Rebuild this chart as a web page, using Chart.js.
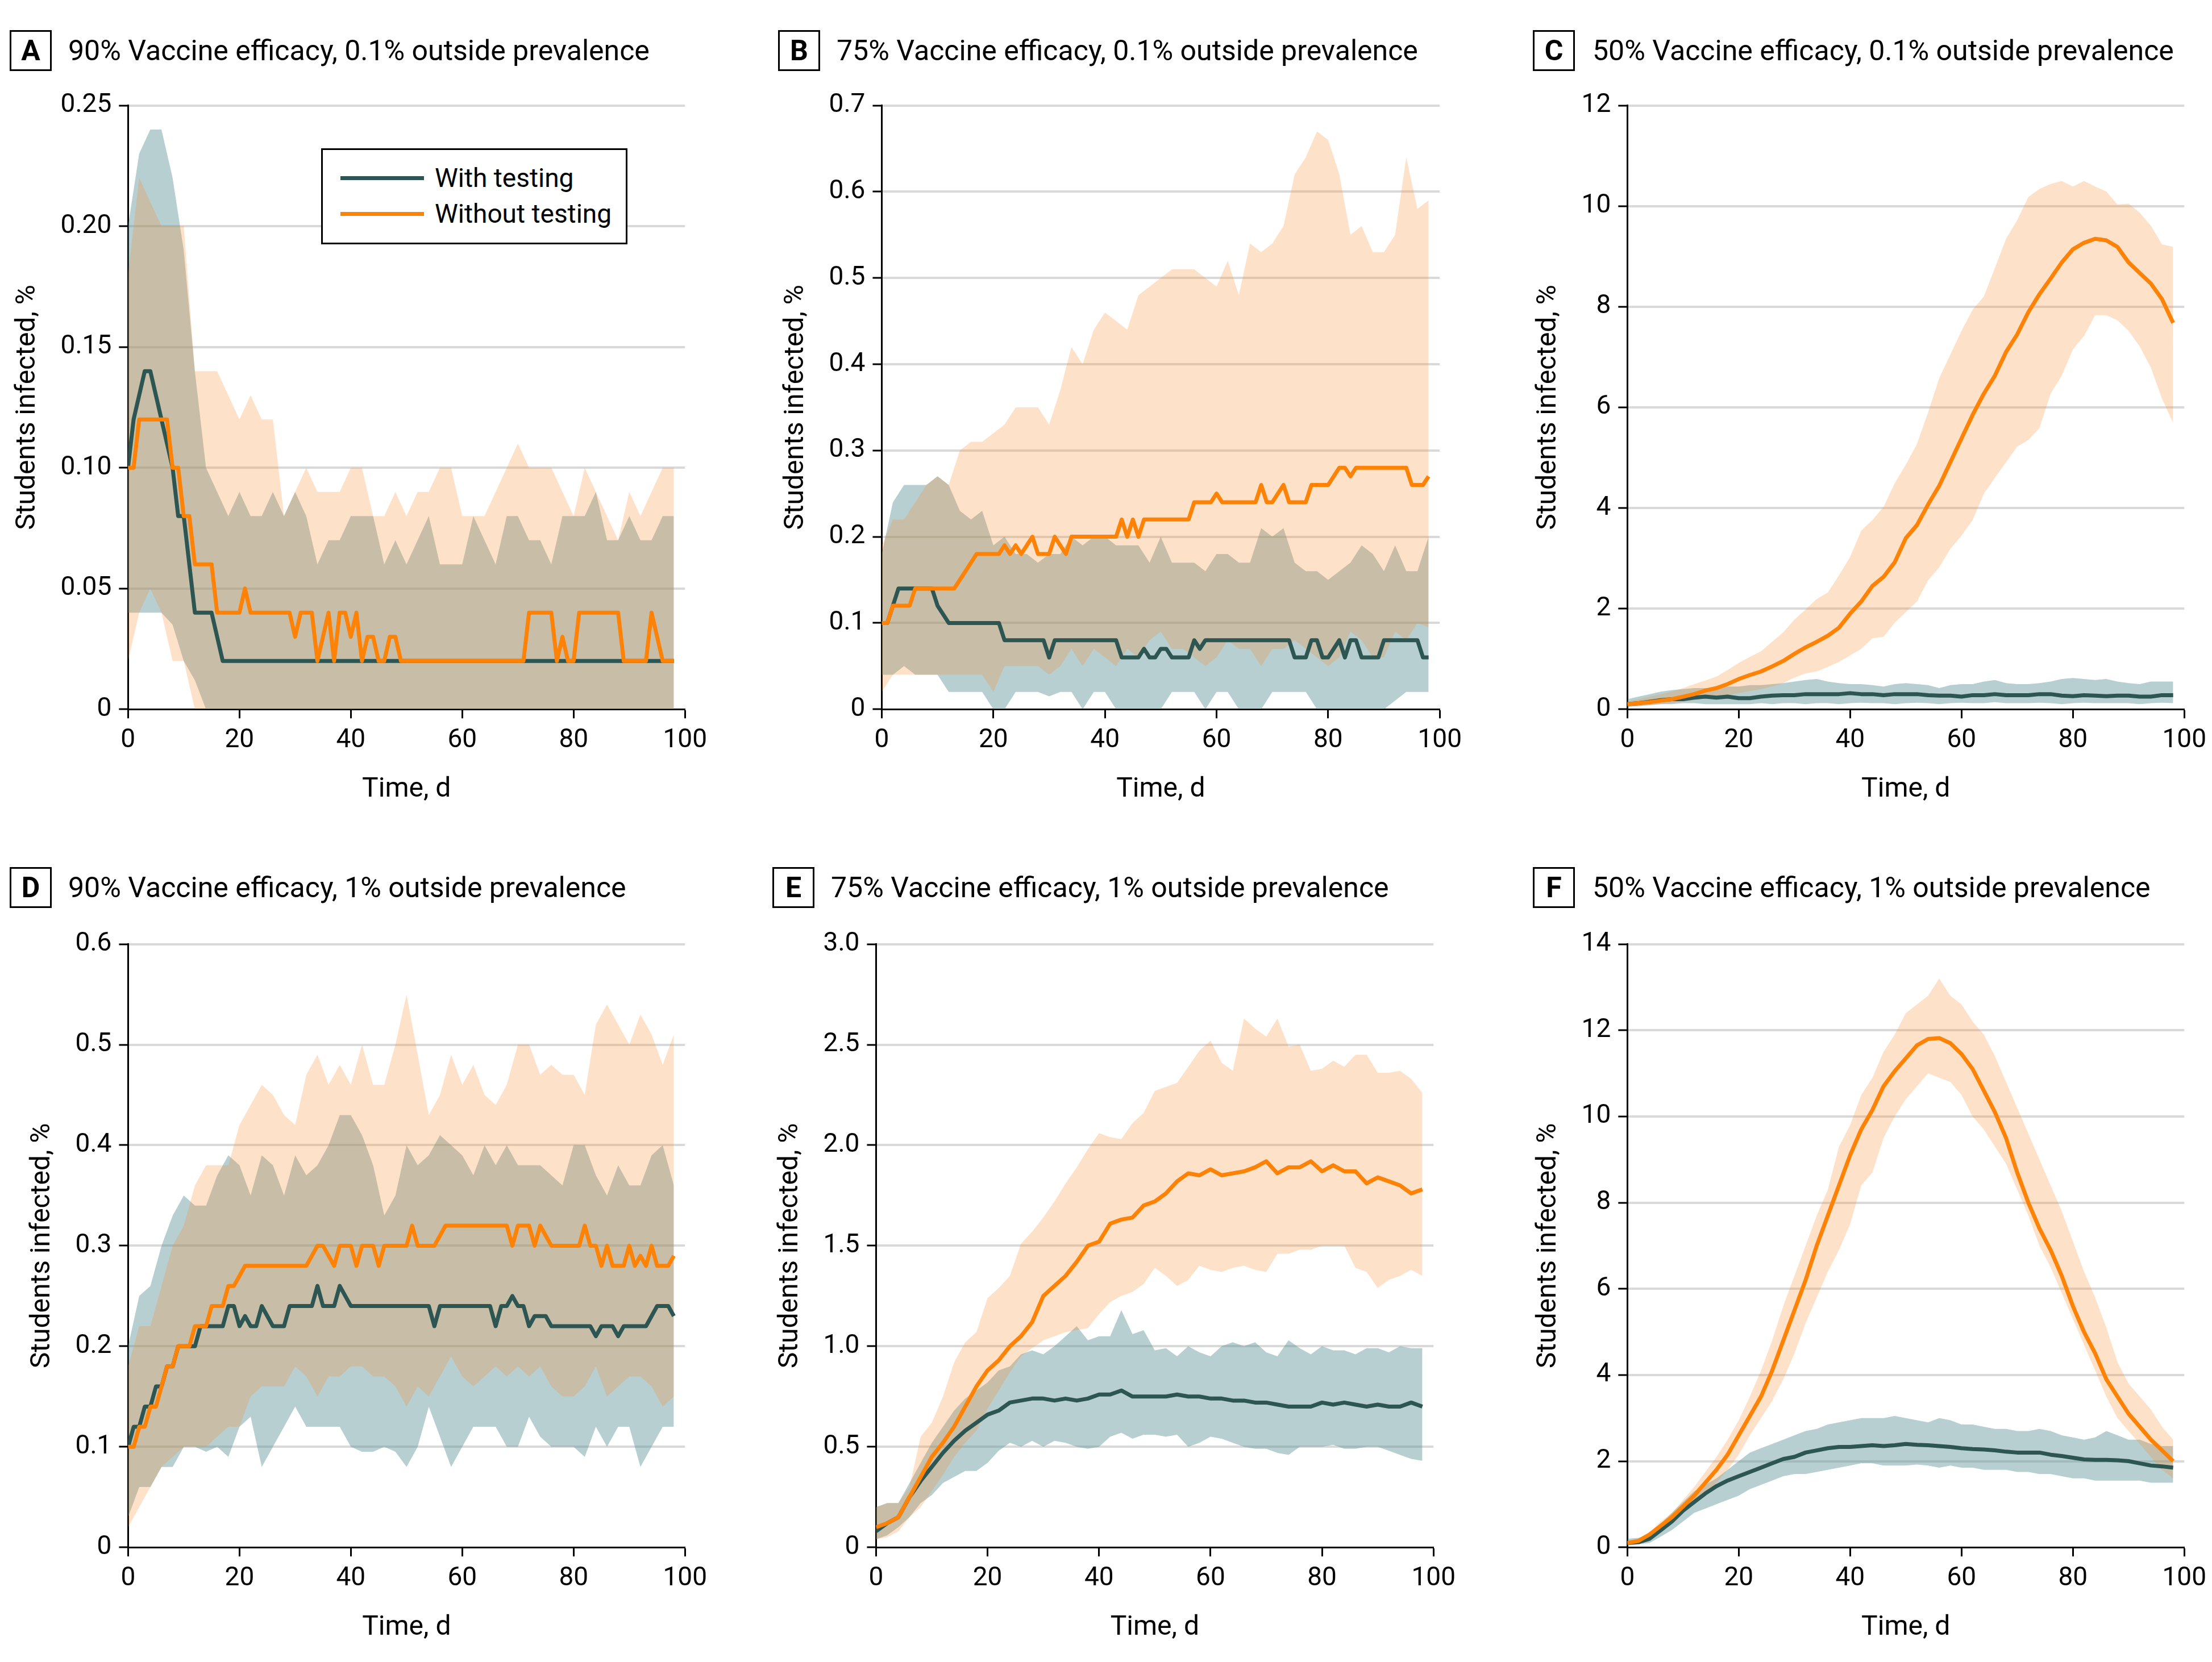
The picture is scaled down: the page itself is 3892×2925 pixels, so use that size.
<!DOCTYPE html>
<html>
<head>
<meta charset="utf-8">
<title>Students infected over time</title>
<script src="https://cdn.jsdelivr.net/npm/chart.js@4.4.1/dist/chart.umd.min.js"></script>
<style>
  html, body { margin: 0; padding: 0; background: #fff; }
  body { position: relative; width: 3892px; height: 2925px; overflow: hidden; font-family: Roboto, "Noto Sans", sans-serif; color: #000; }
  canvas { position: absolute; }
  .box { position: absolute; width: 74px; height: 72px; border: 3px solid #000; box-sizing: border-box;
         font-weight: bold; font-size: 50px; display: flex; align-items: center; justify-content: center; }
  .title { position: absolute; font-size: 50px; line-height: 72px; height: 72px; white-space: nowrap; }
  .legend { position: absolute; left: 565px; top: 261px; width: 539px; height: 169px; border: 3px solid #000;
            box-sizing: border-box; background: #fff; z-index: 2; }
  .legend .swatch { position: absolute; left: 31px; width: 147px; height: 7px; }
  .legend .label { position: absolute; left: 197px; font-size: 46px; line-height: 60px; height: 60px; white-space: nowrap; }
</style>
</head>
<body>
<script>
// Days sampled for the mean lines and for the uncertainty bands
const daysDaily = [0,1,2,3,4,5,6,7,8,9,10,11,12,13,14,15,16,17,18,19,20,21,22,23,24,25,26,27,28,29,30,31,32,33,34,35,36,37,38,39,40,41,42,43,44,45,46,47,48,49,50,51,52,53,54,55,56,57,58,59,60,61,62,63,64,65,66,67,68,69,70,71,72,73,74,75,76,77,78,79,80,81,82,83,84,85,86,87,88,89,90,91,92,93,94,95,96,97,98];
const days2 = [0,2,4,6,8,10,12,14,16,18,20,22,24,26,28,30,32,34,36,38,40,42,44,46,48,50,52,54,56,58,60,62,64,66,68,70,72,74,76,78,80,82,84,86,88,90,92,94,96,98];

const xTicks = [0, 20, 40, 60, 80, 100];

// A: 90% efficacy, 0.1% outside prevalence
const aTicks = [0, 0.05, 0.10, 0.15, 0.20, 0.25];
const aTickLabels = ['0', '0.05', '0.10', '0.15', '0.20', '0.25'];
const aWithMean = [.10,.12,.13,.14,.14,.13,.12,.11,.10,.08, .08,.06,.04,.04,.04,.04,.03,.02,.02,.02,
  .02,.02,.02,.02,.02,.02,.02,.02,.02,.02, .02,.02,.02,.02,.02,.02,.02,.02,.02,.02,
  .02,.02,.02,.02,.02,.02,.02,.02,.02,.02, .02,.02,.02,.02,.02,.02,.02,.02,.02,.02,
  .02,.02,.02,.02,.02,.02,.02,.02,.02,.02, .02,.02,.02,.02,.02,.02,.02,.02,.02,.02,
  .02,.02,.02,.02,.02,.02,.02,.02,.02,.02, .02,.02,.02,.02,.02,.02,.02,.02,.02];
const aWithoutMean = [.10,.10,.12,.12,.12,.12,.12,.12,.10,.10, .08,.08,.06,.06,.06,.06,.04,.04,.04,.04,
  .04,.05,.04,.04,.04,.04,.04,.04,.04,.04, .03,.04,.04,.04,.02,.03,.04,.02,.04,.04,
  .03,.04,.02,.03,.03,.02,.02,.03,.03,.02, .02,.02,.02,.02,.02,.02,.02,.02,.02,.02,
  .02,.02,.02,.02,.02,.02,.02,.02,.02,.02, .02,.02,.04,.04,.04,.04,.04,.02,.03,.02,
  .02,.04,.04,.04,.04,.04,.04,.04,.04,.02, .02,.02,.02,.02,.04,.03,.02,.02,.02];
const aWithLow = [.04,.04,.04,.04,.035,.02,.012,0,0,0, 0,0,0,0,0,0,0,0,0,0, 0,0,0,0,0,0,0,0,0,0, 0,0,0,0,0,0,0,0,0,0, 0,0,0,0,0,0,0,0,0,0];
const aWithHigh = [.20,.23,.24,.24,.22,.19,.14,.10,.09,.08, .09,.08,.08,.09,.08,.09,.08,.06,.07,.07,
  .08,.08,.08,.06,.07,.06,.07,.08,.06,.06, .06,.08,.07,.06,.08,.08,.07,.07,.06,.08,
  .08,.08,.09,.07,.07,.08,.07,.07,.08,.08];
const aWithoutLow = [.02,.04,.05,.04,.02,.02,0,0,0,0, 0,0,0,0,0,0,0,0,0,0, 0,0,0,0,0,0,0,0,0,0, 0,0,0,0,0,0,0,0,0,0, 0,0,0,0,0,0,0,0,0,0];
const aWithoutHigh = [.18,.22,.21,.20,.20,.20,.14,.14,.14,.13, .12,.13,.12,.12,.08,.09,.10,.09,.09,.09,
  .10,.10,.08,.08,.09,.08,.09,.09,.10,.10, .08,.08,.08,.09,.10,.11,.10,.10,.10,.09,
  .08,.10,.09,.08,.07,.09,.08,.09,.10,.10];

// B: 75% efficacy, 0.1% outside prevalence
const bTicks = [0, 0.1, 0.2, 0.3, 0.4, 0.5, 0.6, 0.7];
const bTickLabels = ['0', '0.1', '0.2', '0.3', '0.4', '0.5', '0.6', '0.7'];
const bWithMean = [.10,.10,.12,.14,.14,.14,.14,.14,.14,.14, .12,.11,.10,.10,.10,.10,.10,.10,.10,.10,
  .10,.10,.08,.08,.08,.08,.08,.08,.08,.08, .06,.08,.08,.08,.08,.08,.08,.08,.08,.08,
  .08,.08,.08,.06,.06,.06,.06,.07,.06,.06, .07,.07,.06,.06,.06,.06,.08,.07,.08,.08,
  .08,.08,.08,.08,.08,.08,.08,.08,.08,.08, .08,.08,.08,.08,.06,.06,.06,.08,.08,.06,
  .06,.07,.08,.06,.08,.08,.06,.06,.06,.06, .08,.08,.08,.08,.08,.08,.08,.06,.06];
const bWithoutMean = [.10,.10,.12,.12,.12,.12,.14,.14,.14,.14, .14,.14,.14,.14,.15,.16,.17,.18,.18,.18,
  .18,.18,.19,.18,.19,.18,.19,.20,.18,.18, .18,.20,.19,.18,.20,.20,.20,.20,.20,.20,
  .20,.20,.20,.22,.20,.22,.20,.22,.22,.22, .22,.22,.22,.22,.22,.22,.24,.24,.24,.24,
  .25,.24,.24,.24,.24,.24,.24,.24,.26,.24, .24,.25,.26,.24,.24,.24,.24,.26,.26,.26,
  .26,.27,.28,.28,.27,.28,.28,.28,.28,.28, .28,.28,.28,.28,.28,.26,.26,.26,.27];
const bWithLow = [.04,.04,.05,.04,.04,.04,.02,.02,.02,.02, 0,0,.02,.02,.02,.015,.02,.02,0,.02,
  .02,0,0,0,0,0,.02,.02,.02,0, .02,.02,0,0,0,.02,.02,.02,.02,0, 0,0,0,0,0,0,.01,.02,.02,.02];
const bWithHigh = [.18,.24,.26,.26,.26,.27,.26,.23,.22,.23, .19,.20,.18,.18,.17,.18,.18,.20,.19,.20,
  .20,.19,.19,.19,.17,.20,.17,.17,.17,.16, .18,.18,.17,.17,.21,.20,.21,.17,.16,.16,
  .15,.16,.17,.19,.18,.16,.19,.16,.16,.20];
const bWithoutLow = [.02,.04,.04,.04,.04,.04,.04,.04,.04,.04, .02,.05,.05,.05,.05,.04,.05,.07,.05,.07,
  .06,.05,.07,.06,.08,.09,.07,.07,.06,.05, .06,.08,.07,.07,.05,.07,.07,.08,.07,.06,
  .05,.06,.09,.08,.06,.06,.09,.08,.10,.095];
const bWithoutHigh = [.19,.22,.22,.24,.26,.27,.26,.30,.31,.31, .32,.33,.35,.35,.35,.33,.37,.42,.40,.44,
  .46,.45,.44,.48,.49,.50,.51,.51,.51,.50, .49,.52,.48,.54,.53,.54,.56,.62,.64,.67,
  .66,.62,.55,.56,.53,.53,.55,.64,.58,.59];

// C: 50% efficacy, 0.1% outside prevalence
const cTicks = [0, 2, 4, 6, 8, 10, 12];
const cTickLabels = ['0', '2', '4', '6', '8', '10', '12'];
const cWithMean = [.10,.12,.15,.18,.20,.20,.23,.25,.23,.25, .22,.22,.25,.27,.28,.28,.30,.30,.30,.30,
  .32,.30,.30,.28,.30,.30,.30,.28,.27,.27, .25,.28,.28,.30,.28,.28,.28,.30,.30,.27,
  .26,.28,.27,.26,.27,.27,.25,.25,.28,.28];
const cWithLow = [.05,.06,.08,.10,.10,.12,.12,.10,.10,.10, .10,.10,.12,.10,.12,.12,.10,.12,.12,.10,
  .12,.13,.12,.12,.10,.12,.13,.12,.10,.12, .13,.12,.12,.14,.12,.12,.12,.13,.12,.10,
  .12,.13,.12,.12,.12,.12,.10,.12,.13,.12];
const cWithHigh = [.20,.25,.30,.35,.38,.40,.42,.42,.43,.45, .45,.48,.48,.50,.52,.55,.58,.60,.55,.52,
  .50,.50,.48,.45,.50,.52,.50,.48,.42,.48, .50,.50,.55,.58,.52,.50,.50,.52,.55,.60,
  .62,.60,.58,.60,.55,.52,.50,.55,.55,.55];
const cWithoutMean = [.10,.12,.14,.17,.20,.25,.30,.37,.42,.50, .60,.68,.75,.85,.96,1.10,1.23,1.34,1.46,1.62,
  1.90,2.14,2.45,2.63,2.92,3.40,3.66,4.07,4.44,4.91, 5.38,5.85,6.27,6.63,7.10,7.45,7.89,8.25,8.56,8.88,
  9.14,9.27,9.35,9.32,9.19,8.88,8.67,8.46,8.15,7.68];
const cWithoutLow = [.05,.07,.08,.10,.12,.15,.18,.22,.25,.28, .32,.36,.40,.45,.52,.63,.71,.75,.84,.94,
  1.07,1.20,1.41,1.44,1.72,1.93,2.14,2.56,2.82,3.19, 3.45,3.76,4.28,4.60,4.91,5.22,5.35,5.59,6.27,6.63,
  7.15,7.42,7.83,7.83,7.73,7.52,7.21,6.79,6.17,5.69];
const cWithoutHigh = [.15,.20,.25,.30,.35,.42,.50,.57,.65,.78, .92,1.04,1.15,1.34,1.53,1.78,1.98,2.19,2.32,2.66,
  3.03,3.55,3.76,4.02,4.49,4.86,5.27,5.90,6.58,7.05, 7.52,7.94,8.20,8.77,9.35,9.72,10.18,10.34,10.44,10.50,
  10.39,10.50,10.39,10.29,10.03,10.05,9.87,9.61,9.24,9.19];

// D: 90% efficacy, 1% outside prevalence
const dTicks = [0, 0.1, 0.2, 0.3, 0.4, 0.5, 0.6];
const dTickLabels = ['0', '0.1', '0.2', '0.3', '0.4', '0.5', '0.6'];
const dWithMean = [.10,.12,.12,.14,.14,.16,.16,.18,.18,.20, .20,.20,.20,.22,.22,.22,.22,.22,.24,.24,
  .22,.23,.22,.22,.24,.23,.22,.22,.22,.24, .24,.24,.24,.24,.26,.24,.24,.24,.26,.25,
  .24,.24,.24,.24,.24,.24,.24,.24,.24,.24, .24,.24,.24,.24,.24,.22,.24,.24,.24,.24,
  .24,.24,.24,.24,.24,.24,.22,.24,.24,.25, .24,.24,.22,.23,.23,.23,.22,.22,.22,.22,
  .22,.22,.22,.22,.21,.22,.22,.22,.21,.22, .22,.22,.22,.22,.23,.24,.24,.24,.23];
const dWithoutMean = [.10,.10,.12,.12,.14,.14,.16,.18,.18,.20, .20,.20,.22,.22,.22,.24,.24,.24,.26,.26,
  .27,.28,.28,.28,.28,.28,.28,.28,.28,.28, .28,.28,.28,.29,.30,.30,.29,.28,.30,.30,
  .30,.28,.30,.30,.30,.28,.30,.30,.30,.30, .30,.32,.30,.30,.30,.30,.31,.32,.32,.32,
  .32,.32,.32,.32,.32,.32,.32,.32,.32,.30, .32,.32,.32,.30,.32,.31,.30,.30,.30,.30,
  .30,.30,.32,.30,.30,.28,.30,.28,.28,.28, .30,.28,.29,.28,.30,.28,.28,.28,.29];
const dWithLow = [.03,.06,.06,.08,.08,.10,.10,.095,.10,.09, .12,.13,.08,.10,.12,.14,.12,.12,.12,.12,
  .10,.095,.095,.10,.095,.08,.10,.14,.11,.08, .10,.12,.12,.12,.10,.10,.13,.11,.10,.10,
  .10,.09,.12,.10,.12,.12,.08,.10,.12,.12];
const dWithHigh = [.20,.25,.26,.30,.33,.35,.34,.34,.37,.39, .38,.35,.39,.38,.35,.39,.37,.38,.40,.43,
  .43,.41,.38,.33,.35,.40,.38,.39,.41,.40, .39,.37,.40,.38,.40,.38,.38,.38,.37,.36,
  .40,.40,.37,.35,.38,.36,.36,.39,.40,.36];
const dWithoutLow = [.02,.04,.06,.08,.09,.10,.10,.10,.11,.12, .12,.15,.16,.16,.16,.18,.17,.15,.17,.17,
  .18,.18,.17,.17,.16,.14,.16,.15,.17,.19, .17,.16,.17,.18,.17,.18,.17,.18,.16,.15,
  .15,.16,.18,.15,.16,.17,.17,.16,.14,.15];
const dWithoutHigh = [.18,.22,.22,.26,.30,.32,.36,.38,.38,.38, .42,.44,.46,.45,.43,.42,.47,.49,.46,.48,
  .46,.50,.46,.46,.50,.55,.49,.43,.45,.49, .46,.48,.45,.44,.46,.50,.50,.47,.48,.47,
  .47,.45,.52,.54,.52,.50,.53,.51,.48,.51];

// E: 75% efficacy, 1% outside prevalence
const eTicks = [0, 0.5, 1.0, 1.5, 2.0, 2.5, 3.0];
const eTickLabels = ['0', '0.5', '1.0', '1.5', '2.0', '2.5', '3.0'];
const eWithMean = [.08,.12,.15,.25,.33,.40,.47,.53,.58,.62, .66,.68,.72,.73,.74,.74,.73,.74,.73,.74,
  .76,.76,.78,.75,.75,.75,.75,.76,.75,.75, .74,.74,.73,.73,.72,.72,.71,.70,.70,.70,
  .72,.71,.72,.71,.70,.71,.70,.70,.72,.70];
const eWithLow = [.04,.06,.10,.15,.22,.26,.32,.35,.38,.38, .42,.48,.52,.50,.53,.50,.53,.52,.50,.49,
  .50,.55,.57,.54,.56,.56,.55,.56,.50,.52, .55,.54,.52,.50,.49,.49,.47,.46,.50,.50,
  .50,.51,.49,.49,.50,.50,.48,.46,.44,.43];
const eWithHigh = [.20,.22,.22,.32,.42,.52,.60,.68,.74,.78, .82,.88,.90,.96,.98,.96,1.00,1.05,1.10,1.03,
  1.05,1.05,1.18,1.06,1.08,.98,.99,.95,1.00,.97, .95,1.00,1.02,1.00,1.02,.97,.95,1.03,.99,.96,
  1.00,.98,.98,.96,.99,.99,.97,1.00,.99,.99];
const eWithoutMean = [.10,.12,.15,.25,.35,.45,.52,.60,.70,.80, .88,.93,1.00,1.05,1.12,1.25,1.30,1.35,1.42,1.50,
  1.52,1.61,1.63,1.64,1.70,1.72,1.76,1.82,1.86,1.85, 1.88,1.85,1.86,1.87,1.89,1.92,1.86,1.89,1.89,1.92,
  1.87,1.90,1.87,1.87,1.81,1.84,1.82,1.80,1.76,1.78];
const eWithoutLow = [.04,.05,.08,.15,.20,.28,.36,.45,.52,.58, .69,.78,.87,.95,.99,1.03,1.05,1.07,1.08,1.09,
  1.16,1.22,1.25,1.27,1.31,1.39,1.35,1.30,1.33,1.40, 1.38,1.37,1.39,1.40,1.38,1.37,1.46,1.46,1.48,1.48,
  1.50,1.50,1.50,1.39,1.37,1.29,1.33,1.35,1.38,1.35];
const eWithoutHigh = [.20,.22,.22,.30,.55,.62,.75,.92,1.02,1.07, 1.24,1.29,1.35,1.51,1.57,1.64,1.72,1.81,1.89,1.98,
  2.06,2.04,2.03,2.11,2.16,2.27,2.29,2.31,2.39,2.47, 2.52,2.41,2.37,2.63,2.58,2.54,2.63,2.49,2.50,2.37,
  2.38,2.42,2.39,2.45,2.45,2.36,2.36,2.37,2.33,2.26];

// F: 50% efficacy, 1% outside prevalence
const fTicks = [0, 2, 4, 6, 8, 10, 12, 14];
const fTickLabels = ['0', '2', '4', '6', '8', '10', '12', '14'];
const fWithMean = [.10,.12,.20,.40,.60,.85,1.05,1.25,1.42,1.55, 1.65,1.75,1.85,1.95,2.05,2.10,2.20,2.25,2.30,2.33,
  2.33,2.35,2.37,2.35,2.37,2.40,2.38,2.37,2.35,2.33, 2.30,2.28,2.27,2.25,2.22,2.20,2.20,2.20,2.15,2.12,
  2.08,2.04,2.03,2.03,2.02,2.00,1.95,1.90,1.88,1.85];
const fWithLow = [.05,.07,.10,.25,.40,.60,.80,.90,1.00,1.10, 1.20,1.35,1.45,1.55,1.65,1.70,1.70,1.75,1.80,1.85,
  1.90,1.95,1.95,1.90,1.90,1.90,1.92,1.90,1.85,1.90, 1.85,1.85,1.80,1.80,1.80,1.75,1.75,1.70,1.70,1.65,
  1.60,1.60,1.55,1.55,1.55,1.55,1.55,1.50,1.50,1.50];
const fWithHigh = [.20,.22,.30,.55,.80,1.05,1.30,1.45,1.60,1.80, 2.00,2.20,2.30,2.40,2.50,2.60,2.70,2.75,2.85,2.90,
  2.95,3.00,3.00,3.00,3.05,3.00,2.95,2.90,3.00,2.95, 2.85,2.85,2.80,2.75,2.75,2.70,2.70,2.75,2.70,2.60,
  2.55,2.50,2.55,2.70,2.60,2.50,2.50,2.40,2.35,2.35];
const fWithoutMean = [.10,.15,.30,.50,.70,.95,1.20,1.50,1.80,2.15, 2.60,3.05,3.50,4.10,4.80,5.50,6.20,7.00,7.70,8.40,
  9.10,9.70,10.15,10.70,11.05,11.35,11.65,11.80,11.82,11.70, 11.45,11.10,10.60,10.10,9.50,8.70,8.00,7.40,6.90,6.30,
  5.60,5.00,4.50,3.90,3.50,3.10,2.80,2.50,2.25,2.00];
const fWithoutLow = [.05,.08,.20,.40,.60,.80,1.00,1.25,1.50,1.80, 2.15,2.60,3.00,3.40,3.90,4.50,5.20,5.80,6.40,6.90,
  7.50,8.40,8.70,9.50,10.00,10.40,10.70,11.00,10.90,10.80, 10.50,10.00,9.70,9.30,8.90,8.30,7.70,7.00,6.50,5.90,
  5.30,4.70,4.10,3.50,3.00,2.70,2.40,2.10,1.80,1.60];
const fWithoutHigh = [.15,.20,.35,.60,.80,1.10,1.40,1.75,2.10,2.50, 2.95,3.50,4.10,4.80,5.60,6.30,7.00,7.70,8.30,9.30,
  9.80,10.50,10.90,11.50,11.90,12.40,12.60,12.80,13.20,12.80, 12.60,12.20,11.90,11.40,10.80,10.20,9.60,9.00,8.40,7.80,
  7.10,6.40,5.80,5.10,4.30,3.80,3.50,3.20,2.80,2.50];

// Colours
const TEAL = '#2d5652';
const ORANGE = '#fd8205';
const TEAL_BAND = 'rgba(91, 145, 148, 0.44)';
const ORANGE_BAND = 'rgba(252, 140, 45, 0.26)';
const GRID = '#d9d9d9';
const FONT = 'Roboto, "Noto Sans", sans-serif';

Chart.defaults.font.family = FONT;
Chart.defaults.color = '#000';

// Panel layout: letter box, title and plot area (left, top, right, bottom) on the page
const panels = [
  { letter: 'A', title: '90% Vaccine efficacy, 0.1% outside prevalence', box: [17, 53], text: 120,
    area: [225, 186, 1205, 1249], yMax: 0.25, ticks: aTicks, labels: aTickLabels, lineDays: daysDaily,
    withMean: aWithMean, withoutMean: aWithoutMean, withLow: aWithLow, withHigh: aWithHigh, withoutLow: aWithoutLow, withoutHigh: aWithoutHigh },
  { letter: 'B', title: '75% Vaccine efficacy, 0.1% outside prevalence', box: [1369, 53], text: 1472,
    area: [1551, 186, 2533, 1249], yMax: 0.7, ticks: bTicks, labels: bTickLabels, lineDays: daysDaily,
    withMean: bWithMean, withoutMean: bWithoutMean, withLow: bWithLow, withHigh: bWithHigh, withoutLow: bWithoutLow, withoutHigh: bWithoutHigh },
  { letter: 'C', title: '50% Vaccine efficacy, 0.1% outside prevalence', box: [2697, 53], text: 2802,
    area: [2863, 186, 3843, 1249], yMax: 12, ticks: cTicks, labels: cTickLabels, lineDays: days2,
    withMean: cWithMean, withoutMean: cWithoutMean, withLow: cWithLow, withHigh: cWithHigh, withoutLow: cWithoutLow, withoutHigh: cWithoutHigh },
  { letter: 'D', title: '90% Vaccine efficacy, 1% outside prevalence', box: [17, 1526], text: 120,
    area: [225, 1662, 1205, 2724], yMax: 0.6, ticks: dTicks, labels: dTickLabels, lineDays: daysDaily,
    withMean: dWithMean, withoutMean: dWithoutMean, withLow: dWithLow, withHigh: dWithHigh, withoutLow: dWithoutLow, withoutHigh: dWithoutHigh },
  { letter: 'E', title: '75% Vaccine efficacy, 1% outside prevalence', box: [1359, 1526], text: 1462,
    area: [1541, 1662, 2522, 2724], yMax: 3.0, ticks: eTicks, labels: eTickLabels, lineDays: days2,
    withMean: eWithMean, withoutMean: eWithoutMean, withLow: eWithLow, withHigh: eWithHigh, withoutLow: eWithoutLow, withoutHigh: eWithoutHigh },
  { letter: 'F', title: '50% Vaccine efficacy, 1% outside prevalence', box: [2697, 1526], text: 2802,
    area: [2863, 1662, 3843, 2724], yMax: 14, ticks: fTicks, labels: fTickLabels, lineDays: days2,
    withMean: fWithMean, withoutMean: fWithoutMean, withLow: fWithLow, withHigh: fWithHigh, withoutLow: fWithoutLow, withoutHigh: fWithoutHigh }
];

const pts = (xs, ys) => ys.map((y, i) => ({ x: xs[i], y }));

const bandSet = (label, data, color, fill, order) => ({
  label, data, fill, backgroundColor: color, borderWidth: 0, pointRadius: 0, order
});

const lineSet = (label, data, color, order) => ({
  label, data, fill: false, borderColor: color, borderWidth: 7, borderJoinStyle: 'round',
  pointRadius: 0, tension: 0, order
});

const buildChart = (p) => {
  const canvas = document.createElement('canvas');
  canvas.width = 1300;
  canvas.height = 1450;
  document.body.appendChild(canvas);

  const chart = new Chart(canvas, {
    type: 'line',
    data: {
      datasets: [
        bandSet('With testing, upper', pts(days2, p.withHigh), TEAL_BAND, '+1', 4),
        bandSet('With testing, lower', pts(days2, p.withLow), TEAL_BAND, false, 4),
        bandSet('Without testing, upper', pts(days2, p.withoutHigh), ORANGE_BAND, '+1', 3),
        bandSet('Without testing, lower', pts(days2, p.withoutLow), ORANGE_BAND, false, 3),
        lineSet('With testing', pts(p.lineDays, p.withMean), TEAL, 2),
        lineSet('Without testing', pts(p.lineDays, p.withoutMean), ORANGE, 1)
      ]
    },
    options: {
      animation: false,
      responsive: false,
      maintainAspectRatio: false,
      devicePixelRatio: 1,
      events: [],
      layout: { padding: { top: 30, right: 10, bottom: 0, left: 0 } },
      plugins: { legend: { display: false }, tooltip: { enabled: false } },
      scales: {
        x: {
          type: 'linear',
          min: 0,
          max: 100,
          afterBuildTicks: (s) => { s.ticks = xTicks.map(v => ({ value: v })); },
          ticks: { font: { size: 46 }, color: '#000', padding: 12, maxRotation: 0 },
          grid: { drawOnChartArea: false, tickLength: 16, tickColor: '#000', tickWidth: 3 },
          border: { color: '#000', width: 3 },
          title: { display: true, text: 'Time, d', font: { size: 48 }, color: '#000', padding: { top: 18, bottom: 0 } }
        },
        y: {
          min: 0,
          max: p.yMax,
          afterBuildTicks: (s) => { s.ticks = p.ticks.map(v => ({ value: v })); },
          ticks: { font: { size: 46 }, color: '#000', padding: 13, callback: (v, i) => p.labels[i] },
          grid: {
            color: (ctx) => (ctx.tick && ctx.tick.value === 0 ? 'rgba(0,0,0,0)' : GRID),
            lineWidth: 4, tickLength: 16, tickColor: '#000', tickWidth: 3
          },
          border: { color: '#000', width: 3 },
          title: { display: true, text: 'Students infected, %', font: { size: 48 }, color: '#000', padding: { top: 0, bottom: 16 } }
        }
      }
    }
  });

  // Size the canvas so the plot area matches the panel, then move it into place
  const [left, top, right, bottom] = p.area;
  for (let k = 0; k < 2; k++) {
    const ca = chart.chartArea;
    const w = canvas.width + (right - left) - (ca.right - ca.left);
    const h = canvas.height + (bottom - top) - (ca.bottom - ca.top);
    chart.resize(Math.round(w), Math.round(h));
    chart.update();
  }
  const ca = chart.chartArea;
  canvas.style.left = (left - ca.left) + 'px';
  canvas.style.top = (top - ca.top) + 'px';
};

const addTitle = (p) => {
  const box = document.createElement('div');
  box.className = 'box';
  box.textContent = p.letter;
  box.style.left = p.box[0] + 'px';
  box.style.top = p.box[1] + 'px';
  document.body.appendChild(box);

  const title = document.createElement('div');
  title.className = 'title';
  title.textContent = p.title;
  title.style.left = p.text + 'px';
  title.style.top = p.box[1] + 'px';
  document.body.appendChild(title);
};

const addLegend = () => {
  const legend = document.createElement('div');
  legend.className = 'legend';
  const items = [['With testing', TEAL, 49], ['Without testing', ORANGE, 112]];
  items.forEach(([text, color, y]) => {
    const swatch = document.createElement('div');
    swatch.className = 'swatch';
    swatch.style.background = color;
    swatch.style.top = (y - 3) + 'px';
    legend.appendChild(swatch);
    const label = document.createElement('div');
    label.className = 'label';
    label.textContent = text;
    label.style.top = (y - 30) + 'px';
    legend.appendChild(label);
  });
  document.body.appendChild(legend);
};

panels.forEach(p => {
  buildChart(p);
  addTitle(p);
});
addLegend();
</script>
</body>
</html>
